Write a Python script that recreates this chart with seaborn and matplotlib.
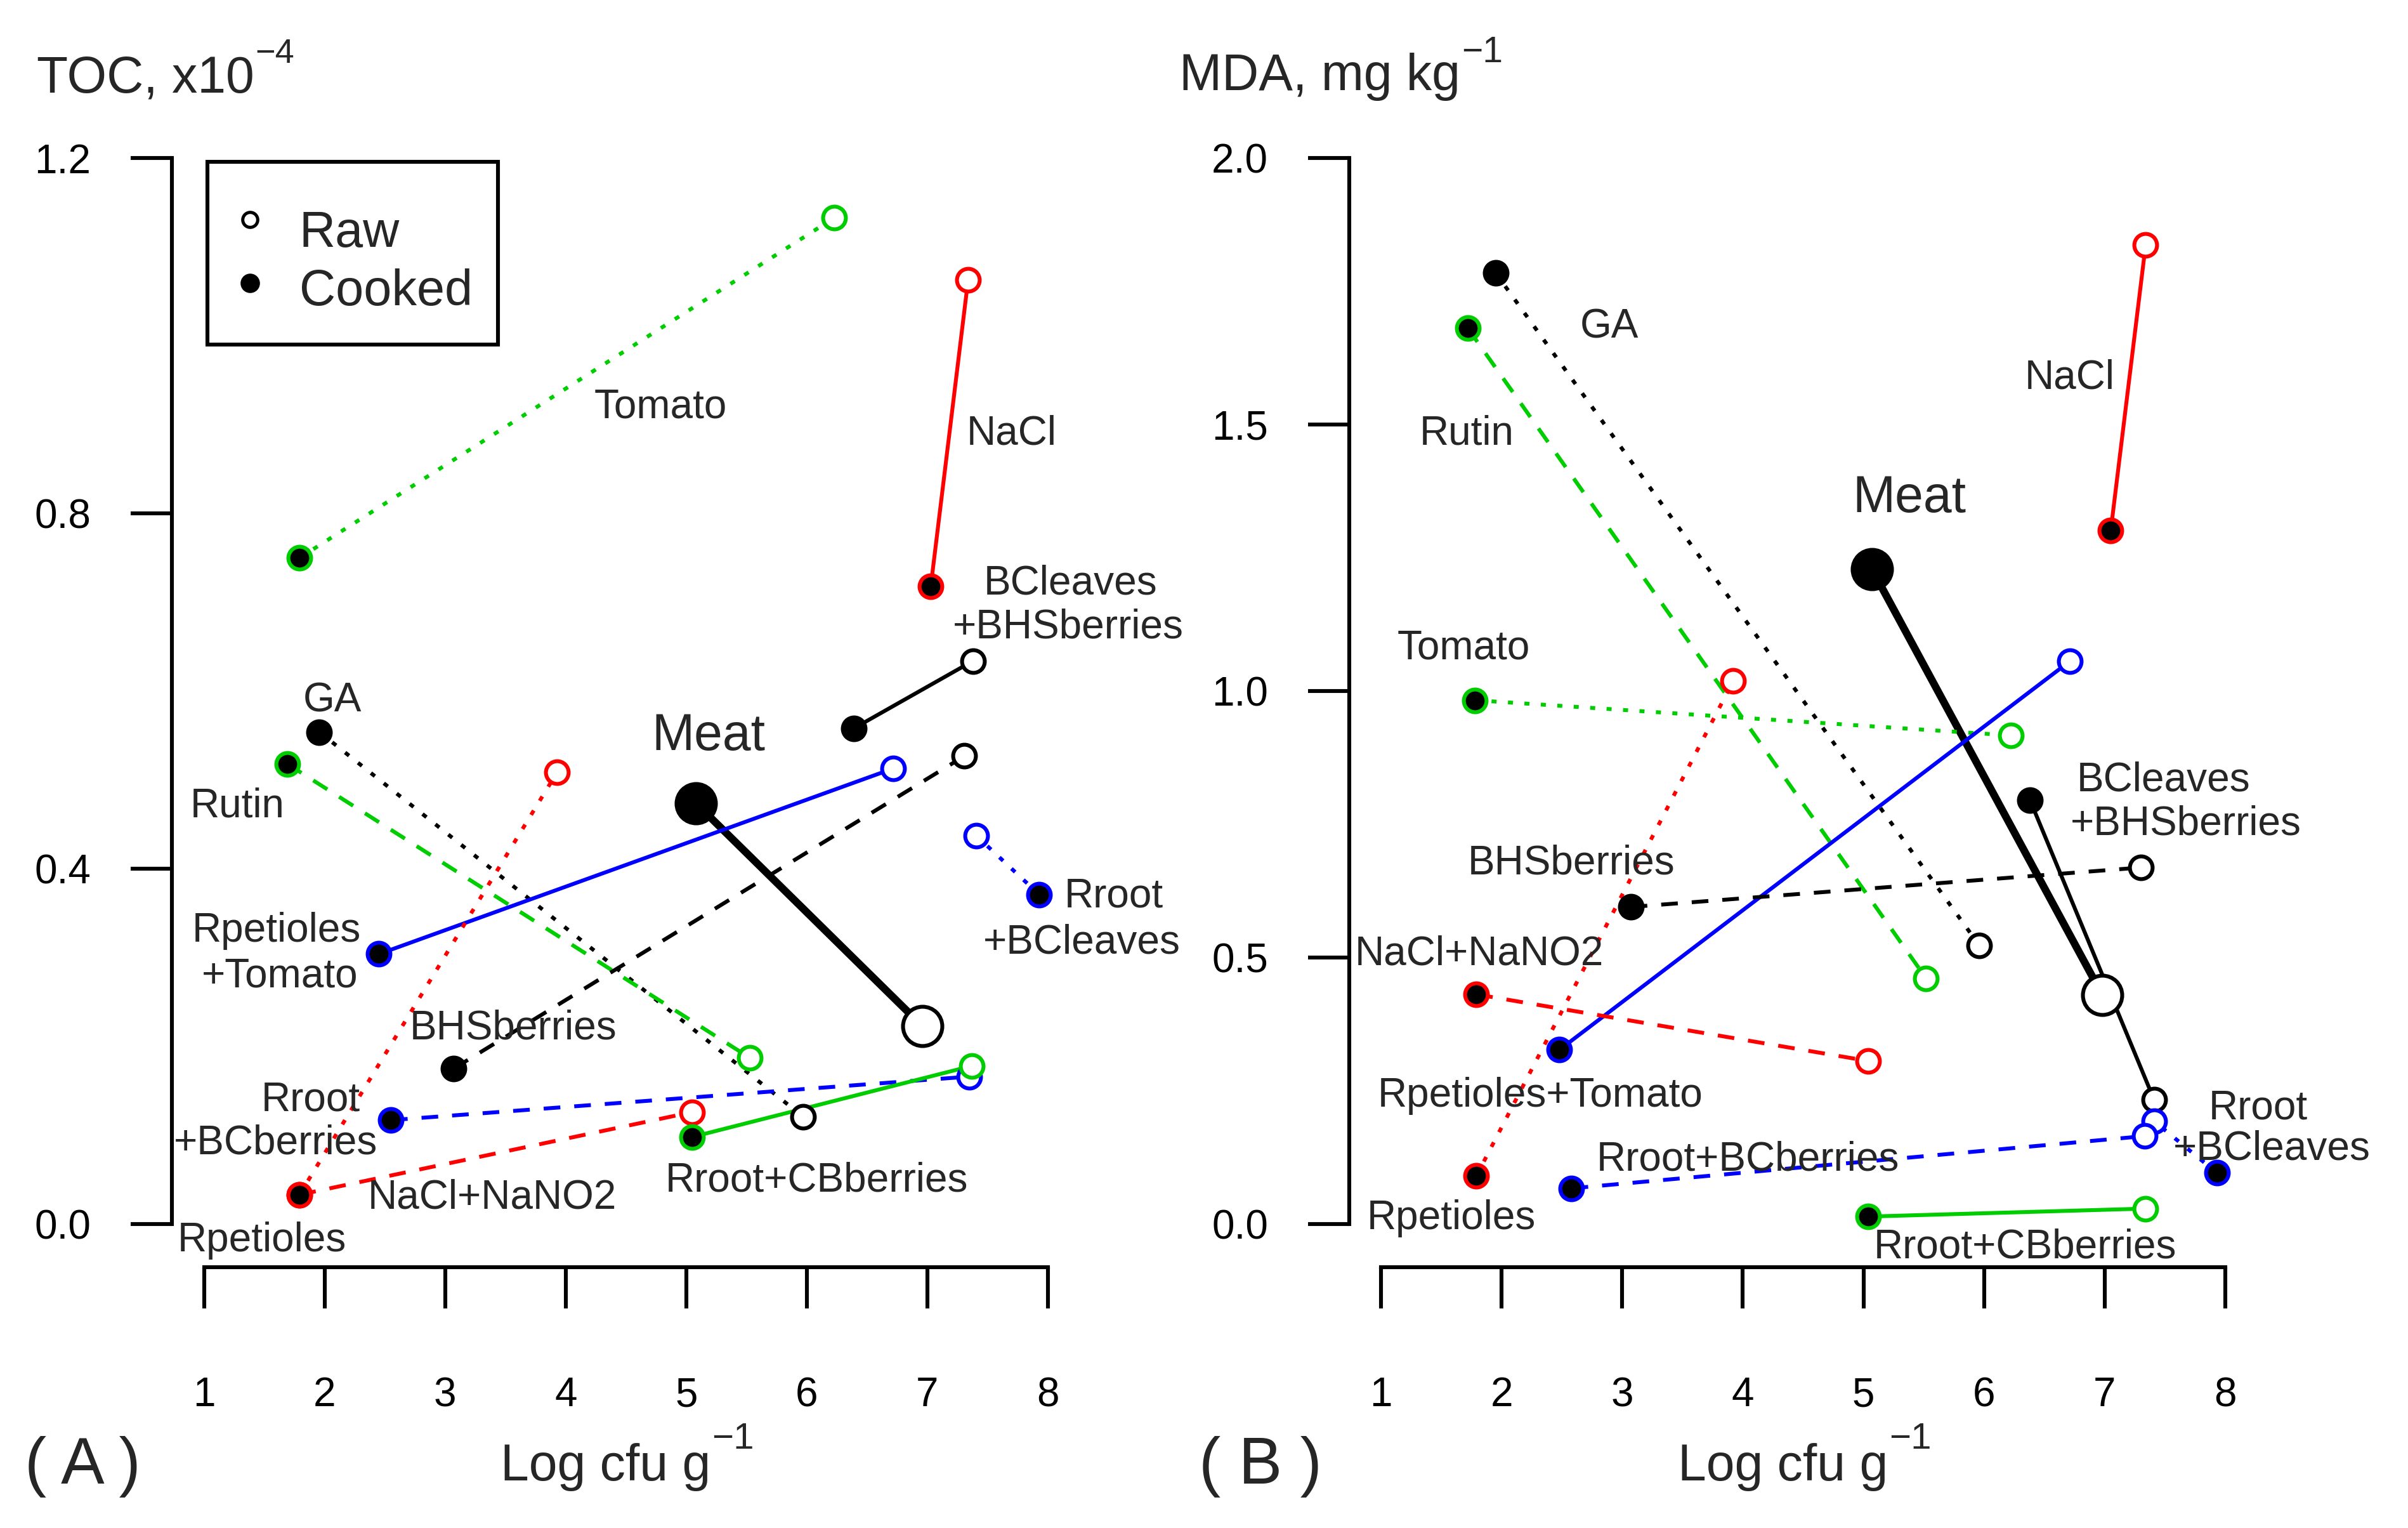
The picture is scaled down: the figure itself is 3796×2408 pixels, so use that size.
import numpy as np
import pandas as pd
import matplotlib
matplotlib.use("Agg")
import matplotlib.pyplot as plt
import matplotlib.transforms as mtransforms
from matplotlib.patches import Rectangle
from matplotlib.lines import Line2D
import seaborn as sns

# ---------------- data ----------------
treatments = ["Meat", "Tomato", "NaCl", "BCleaves+BHSberries", "GA", "Rutin",
              "Rpetioles+Tomato", "BHSberries", "Rroot+BCleaves", "Rpetioles",
              "Rroot+BCberries", "NaCl+NaNO2", "Rroot+CBberries"]

# Panel A: TOC (x10^-4) vs Log cfu g-1
toc_cooked_x = [5.08, 1.79, 7.03, 6.39, 1.955, 1.69, 2.45, 3.07, 7.93, 1.79, 2.55, 1.79, 5.05]
toc_cooked_y = [0.474, 0.750, 0.718, 0.558, 0.554, 0.518, 0.304, 0.175, 0.371, 0.033, 0.117, 0.033, 0.098]
toc_raw_x = [6.96, 6.23, 7.34, 7.38, 5.97, 5.53, 6.72, 7.31, 7.41, 3.93, 7.35, 5.05, 7.37]
toc_raw_y = [0.223, 1.133, 1.063, 0.634, 0.121, 0.187, 0.513, 0.527, 0.437, 0.509, 0.166, 0.126, 0.178]

# Panel B: MDA (mg kg-1) vs Log cfu g-1
mda_cooked_x = [5.07, 1.78, 7.05, 6.38, 1.95, 1.72, 2.48, 3.07, 7.93, 1.79, 2.58, 1.79, 5.04]
mda_cooked_y = [1.229, 0.983, 1.301, 0.796, 1.785, 1.681, 0.327, 0.595, 0.096, 0.090, 0.067, 0.431, 0.014]
mda_raw_x = [6.98, 6.22, 7.34, 7.41, 5.96, 5.52, 6.71, 7.30, 7.41, 3.92, 7.33, 5.04, 7.34]
mda_raw_y = [0.430, 0.917, 1.838, 0.233, 0.523, 0.461, 1.056, 0.669, 0.193, 1.019, 0.165, 0.306, 0.029]

x_ticks = [1, 2, 3, 4, 5, 6, 7, 8]
toc_ticks = [0.0, 0.4, 0.8, 1.2]
toc_tick_labels = ["0.0", "0.4", "0.8", "1.2"]
mda_ticks = [0.0, 0.5, 1.0, 1.5, 2.0]
mda_tick_labels = ["0.0", "0.5", "1.0", "1.5", "2.0"]

# ---------------- styles ----------------
GREEN, RED, BLUE, BLACK = "#00CD00", "#FF0000", "#0000FF", "#000000"
DOT = (0, (1.3, 2.95))
DASH = (0, (4.3, 3.6))
SOLID = "-"
series_style = {
    "Meat": (BLACK, SOLID),
    "Tomato": (GREEN, DOT),
    "NaCl": (RED, SOLID),
    "BCleaves+BHSberries": (BLACK, SOLID),
    "GA": (BLACK, DOT),
    "Rutin": (GREEN, DASH),
    "Rpetioles+Tomato": (BLUE, SOLID),
    "BHSberries": (BLACK, DASH),
    "Rroot+BCleaves": (BLUE, DOT),
    "Rpetioles": (RED, DOT),
    "Rroot+BCberries": (BLUE, DASH),
    "NaCl+NaNO2": (RED, DASH),
    "Rroot+CBberries": (GREEN, SOLID),
}

# label positions (data coords, centred horizontally, baseline)
labels_A = [("Meat", 5.184, 0.534, 29), ("Tomato", 4.786, 0.908, 23), ("NaCl", 7.70, 0.878, 23),
            ("BCleaves", 8.19, 0.709, 23), ("+BHSberries", 8.17, 0.660, 23),
            ("GA", 2.064, 0.577, 23), ("Rutin", 1.276, 0.458, 23),
            ("Rpetioles", 1.60, 0.318, 23), ("+Tomato", 1.627, 0.267, 23),
            ("BHSberries", 3.567, 0.208, 23), ("Rroot", 8.55, 0.357, 23),
            ("+BCleaves", 8.285, 0.305, 23), ("Rroot", 1.882, 0.1275, 23),
            ("+BCberries", 1.592, 0.0786, 23), ("NaCl+NaNO2", 3.388, 0.0172, 23),
            ("Rpetioles", 1.479, -0.0304, 23), ("Rroot+CBberries", 6.084, 0.037, 23)]
labels_B = [("Meat", 5.382, 1.336, 29), ("GA", 2.891, 1.663, 23), ("Rutin", 1.710, 1.463, 23),
            ("NaCl", 6.708, 1.568, 23), ("Tomato", 1.687, 1.060, 23),
            ("BCleaves", 7.49, 0.813, 23), ("+BHSberries", 7.675, 0.731, 23),
            ("BHSberries", 2.576, 0.657, 23), ("NaCl+NaNO2", 1.815, 0.486, 23),
            ("Rpetioles+Tomato", 2.32, 0.220, 23), ("Rroot+BCberries", 4.04, 0.101, 23),
            ("Rpetioles", 1.584, -0.0095, 23), ("Rroot+CBberries", 6.342, -0.0638, 23),
            ("Rroot", 8.275, 0.1976, 23), ("+BCleaves", 8.385, 0.121, 23)]

# ---------------- figure ----------------
W, H, DPI = 3796, 2408, 200
sns.set_style("ticks")
plt.rcParams['font.family'] = ['Liberation Sans', 'DejaVu Sans']

fig = plt.figure(figsize=(W / DPI, H / DPI), dpi=DPI, facecolor="white")
pix = mtransforms.Affine2D().scale(1 / W, -1 / H).translate(0, 1) + fig.transFigure


def add_axes_px(left, right, top, bottom):
    return fig.add_axes([left / W, 1 - bottom / H, (right - left) / W, (bottom - top) / H])


LW = 2.2


def draw_panel(ax, cx, cy, rx, ry, yticks, ylabels, labels):
    for i, name in enumerate(treatments):
        color, ls = series_style[name]
        big = name == "Meat"
        df = pd.DataFrame({"x": [cx[i], rx[i]], "y": [cy[i], ry[i]]})
        sns.lineplot(data=df, x="x", y="y", ax=ax, color=color, linestyle=ls,
                     linewidth=4.3 if big else LW, sort=False, legend=False, zorder=2)
    for i, name in enumerate(treatments):
        color, ls = series_style[name]
        big = name == "Meat"
        s = 497 if big else 166
        sns.scatterplot(x=[cx[i]], y=[cy[i]], ax=ax, s=s, color="black", edgecolor=color,
                        linewidth=LW, zorder=3, legend=False)
        sns.scatterplot(x=[rx[i]], y=[ry[i]], ax=ax, s=s, color="white", edgecolor=color,
                        linewidth=LW, zorder=3, legend=False)
    for txt, x, y, fs in labels:
        ax.text(x, y, txt, ha="center", va="baseline", fontsize=fs, clip_on=False, zorder=4)
    ax.set_xticks(x_ticks)
    ax.set_xticklabels([str(v) for v in x_ticks])
    ax.set_yticks(yticks)
    ax.set_yticklabels(ylabels)
    ax.set_xlabel("")
    ax.set_ylabel("")
    for sp in ["top", "right"]:
        ax.spines[sp].set_visible(False)
    for sp in ["left", "bottom"]:
        ax.spines[sp].set_linewidth(LW)
        ax.spines[sp].set_color("black")
    ax.spines["left"].set_bounds(yticks[0], yticks[-1])
    ax.spines["bottom"].set_bounds(x_ticks[0], x_ticks[-1])
    ax.tick_params(axis="both", direction="out", length=23.5, width=LW, color="black",
                   labelsize=23, labelcolor="black")
    ax.tick_params(axis="x", pad=38.5)
    ax.tick_params(axis="y", pad=22.5)
    ax.set_facecolor("white")
    ax.grid(False)


axA = add_axes_px(271, 1746, 180, 1997)
axA.set_xlim(0.7315, 8.4975)
axA.set_ylim(-0.0486, 1.2496)
draw_panel(axA, toc_cooked_x, toc_cooked_y, toc_raw_x, toc_raw_y, toc_ticks, toc_tick_labels, labels_A)

axB = add_axes_px(2127, 3622, 165, 1997)
axB.set_xlim(0.737, 8.5996)
axB.set_ylim(-0.081, 2.1006)
draw_panel(axB, mda_cooked_x, mda_cooked_y, mda_raw_x, mda_raw_y, mda_ticks, mda_tick_labels, labels_B)

renderer = fig.canvas.get_renderer()


def sup_text(left, baseline, main, sup, fs=29, sfs=19.5, raise_px=46):
    t = fig.text(left, baseline, main, transform=pix, ha="left", va="baseline", fontsize=fs)
    bb = t.get_window_extent(renderer)
    x_end = bb.x1  # display pixels == output pixels
    fig.text(x_end + 2, baseline - raise_px, sup, transform=pix, ha="left", va="baseline",
             fontsize=sfs)


# axis titles
sup_text(58, 145, "TOC, x10", "\u22124", sfs=19.5, raise_px=46)
sup_text(1859, 142, "MDA, mg kg", "\u22121", sfs=20.5, raise_px=44)
sup_text(789, 2333, "Log cfu g", "\u22121", sfs=21, raise_px=50)
sup_text(2645, 2333, "Log cfu g", "\u22121", sfs=21, raise_px=50)
fig.text(130, 2338, "( A )", transform=pix, ha="center", va="baseline", fontsize=37)
fig.text(1987, 2338, "( B )", transform=pix, ha="center", va="baseline", fontsize=37)

# legend (panel A)
fig.add_artist(Rectangle((327, 255), 458, 288, transform=pix, fill=False, lw=LW, edgecolor="black"))
fig.add_artist(Line2D([394], [346], transform=pix, marker="o", markersize=8.5, mfc="white",
                      mec="black", mew=1.8, linestyle="none"))
fig.add_artist(Line2D([394], [446], transform=pix, marker="o", markersize=9.5, mfc="black",
                      mec="black", mew=1.5, linestyle="none"))
fig.text(472, 389, "Raw", transform=pix, ha="left", va="baseline", fontsize=28.5)
fig.text(472, 481, "Cooked", transform=pix, ha="left", va="baseline", fontsize=28.5)

fig.savefig("out.png", dpi=DPI, facecolor="white")
